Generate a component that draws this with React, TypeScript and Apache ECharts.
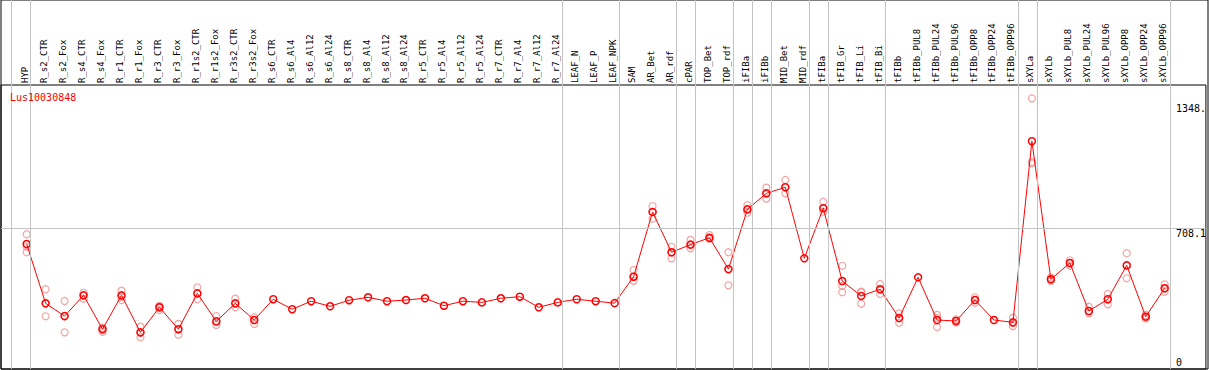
import { useEffect, useRef } from 'react';
import * as echarts from 'echarts';

const geneName = 'Lus10030848';

const categories = [
  'HYP', 'R_s2_CTR', 'R_s2_Fox', 'R_s4_CTR', 'R_s4_Fox', 'R_r1_CTR', 'R_r1_Fox', 'R_r3_CTR', 'R_r3_Fox',
  'R_r1s2_CTR', 'R_r1s2_Fox', 'R_r3s2_CTR', 'R_r3s2_Fox', 'R_s6_CTR', 'R_s6_Al4', 'R_s6_Al12', 'R_s6_Al24',
  'R_s8_CTR', 'R_s8_Al4', 'R_s8_Al12', 'R_s8_Al24', 'R_r5_CTR', 'R_r5_Al4', 'R_r5_Al12', 'R_r5_Al24',
  'R_r7_CTR', 'R_r7_Al4', 'R_r7_Al12', 'R_r7_Al24', 'LEAF_N', 'LEAF_P', 'LEAF_NPK', 'SAM', 'AR_Bet', 'AR_rdf',
  'cPAR', 'TOP_Bet', 'TOP_rdf', 'iFIBa', 'iFIBb', 'MID_Bet', 'MID_rdf', 'tFIBa', 'tFIB_Gr', 'tFIB_Li', 'tFIB_Bi',
  'tFIBb', 'tFIBb_PUL8', 'tFIBb_PUL24', 'tFIBb_PUL96', 'tFIBb_OPP8', 'tFIBb_OPP24', 'tFIBb_OPP96', 'sXYLa',
  'sXYLb', 'sXYLb_PUL8', 'sXYLb_PUL24', 'sXYLb_PUL96', 'sXYLb_OPP8', 'sXYLb_OPP24', 'sXYLb_OPP96',
];

const meanValues = [
  628, 325, 260, 366, 193, 366, 177, 305, 193, 376, 233, 325, 240, 346, 295, 336, 310,
  341, 356, 336, 342, 351, 313, 336, 330, 351, 359, 305, 330, 346, 336, 326, 461, 792, 586,
  625, 660, 500, 805, 887, 918, 555, 811, 439, 363, 397, 250, 458, 240, 235, 342, 240, 228, 1153,
  448, 531, 286, 346, 519, 257, 402,
];

const N = null;
const rep1 = [
  678, 397, 337, 379, 201, 390, 206, 312, 220, 407, 260, 349, 254, N, N, N, N,
  N, N, N, N, N, N, N, N, N, N, N, N, N, N, N, 495, 822, 614,
  649, 674, 586, 827, 916, 955, N, 844, 517, 385, 424, 274, N, 266, 243, 356, N, 252, 1372,
  457, 545, 308, 373, 581, 266, 422,
];
const rep2 = [
  615, 325, 260, 366, 180, 358, 174, 305, 193, 376, 233, 325, 240, N, N, N, N,
  N, N, N, N, N, N, N, N, N, N, N, N, N, N, N, 461, 792, 586,
  625, 660, 500, 805, 887, 918, N, 811, 414, 381, 397, 250, N, 250, 235, 342, N, 225, 1047,
  448, 531, 286, 346, 519, 257, 402,
];
const rep3 = [
  586, 259, 177, 349, 194, 342, 152, 291, 165, 346, 215, 305, 220, N, N, N, N,
  N, N, N, N, N, N, N, N, N, N, N, N, N, N, N, 440, 757, 555,
  606, 654, 417, 788, 860, 887, N, 793, 382, 323, 373, 226, N, 204, 227, 328, N, 209, 1040,
  439, 517, 274, 320, 453, 248, 385,
];

// index of the last category of each group (-1 = before the first)
const groupEnds = [-1, 0, 28, 31, 34, 35, 37, 38, 39, 41, 42, 45, 52, 53, 60];

const yTickValues = [708.1, 1348];
const yTickLabels = ['708.1', '1348.'];
const zeroTickValues = [0];
const zeroTickLabels = ['0'];
const gridLineValue = 708.1;

// layout
const W = 1209;
const H = 370;
const FIRST_X = 26.7;
const STEP = 19;
const BOX_L = 1;
const BOX_R = 1208;
const HEAD_H = 85;
const BOX_B = 369;
const ZERO_Y = 367;
const PX_PER_UNIT = 0.1958;
const LABEL_SHIFT = 1.5 / STEP;
const X_MIN = (BOX_L - FIRST_X) / STEP;
const X_MAX = (BOX_R - FIRST_X) / STEP;
const Y_MAX = (ZERO_Y - HEAD_H) / PX_PER_UNIT;
const Y_MIN = (ZERO_Y - BOX_B) / PX_PER_UNIT;
const FONT = 'DejaVu Sans Mono';
const GREY = '#c4c4c4';

export default function App() {
  const ref = useRef<HTMLDivElement>(null);
  useEffect(() => {
    document.body.style.margin = '0';
    if (!ref.current) return;
    const chart = echarts.init(ref.current, null, { renderer: 'svg' });

    const repData: number[][] = [];
    [rep1, rep2, rep3].forEach((arr) => {
      arr.forEach((v, i) => {
        if (v !== null) repData.push([i, v as number]);
      });
    });

    const option: any = {
      animation: false,
      title: {
        text: geneName,
        left: 10,
        top: 92,
        padding: 0,
        textStyle: { color: '#ff0000', fontSize: 10, fontWeight: 'normal', fontFamily: FONT },
      },
      grid: [
        {
          left: BOX_L, right: W - BOX_R, top: HEAD_H, bottom: H - BOX_B,
          show: true, borderColor: '#000', borderWidth: 1, backgroundColor: 'transparent',
        },
        {
          left: BOX_L, right: W - BOX_R, top: 0, bottom: H - BOX_B,
          show: true, borderColor: '#000', borderWidth: 1, backgroundColor: 'transparent',
        },
      ],
      xAxis: [
        {
          gridIndex: 0,
          type: 'value',
          position: 'top',
          min: X_MIN,
          max: X_MAX,
          axisLine: { show: false },
          axisTick: { show: false },
          splitLine: { show: false },
          axisLabel: {
            customValues: categories.map((_, i) => i - LABEL_SHIFT),
            formatter: (v: number) => categories[Math.round(v)] ?? '',
            rotate: 90,
            margin: 2,
            fontSize: 9,
            fontFamily: FONT,
            color: '#000',
          },
        },
        {
          gridIndex: 1,
          type: 'value',
          min: X_MIN,
          max: X_MAX,
          show: false,
        },
      ],
      yAxis: [
        {
          gridIndex: 0,
          type: 'value',
          position: 'right',
          offset: -38,
          min: Y_MIN,
          max: Y_MAX,
          axisLine: { show: false },
          axisTick: { show: false },
          splitLine: { show: false },
          axisLabel: {
            customValues: yTickValues,
            formatter: (v: number) => yTickLabels[yTickValues.indexOf(v)] ?? '',
            verticalAlign: 'top',
            margin: 8,
            fontSize: 10,
            fontFamily: FONT,
            color: '#000',
          },
        },
        {
          gridIndex: 0,
          type: 'value',
          position: 'right',
          offset: -38,
          min: Y_MIN,
          max: Y_MAX,
          axisLine: { show: false },
          axisTick: { show: false },
          splitLine: { show: false },
          axisLabel: {
            customValues: zeroTickValues,
            formatter: (v: number) => zeroTickLabels[zeroTickValues.indexOf(v)] ?? '',
            verticalAlign: 'bottom',
            margin: 8,
            fontSize: 10,
            fontFamily: FONT,
            color: '#000',
          },
        },
        {
          gridIndex: 1,
          type: 'value',
          min: 0,
          max: 1,
          show: false,
        },
      ],
      series: [
        {
          type: 'line',
          xAxisIndex: 1,
          yAxisIndex: 2,
          data: [],
          silent: true,
          z: 1,
          markLine: {
            silent: true,
            symbol: 'none',
            label: { show: false },
            emphasis: { disabled: true },
            lineStyle: { color: GREY, width: 1, type: 'solid' },
            data: groupEnds.map((g) => ({ xAxis: g + 0.2 })),
          },
        },
        {
          type: 'scatter',
          xAxisIndex: 0,
          yAxisIndex: 0,
          data: repData,
          symbol: 'circle',
          symbolSize: 7,
          silent: true,
          z: 3,
          itemStyle: { color: 'rgba(0,0,0,0)', borderColor: '#f08c8c', borderWidth: 1.2 },
          markLine: {
            silent: true,
            symbol: 'none',
            label: { show: false },
            emphasis: { disabled: true },
            lineStyle: { color: GREY, width: 1, type: 'solid' },
            data: [{ yAxis: gridLineValue }],
          },
        },
        {
          type: 'line',
          xAxisIndex: 0,
          yAxisIndex: 0,
          data: meanValues.map((v, i) => [i, v]),
          symbol: 'circle',
          symbolSize: 7,
          showAllSymbol: true,
          silent: true,
          z: 4,
          lineStyle: { color: '#ff0000', width: 1 },
          itemStyle: { color: 'rgba(0,0,0,0)', borderColor: '#ff0000', borderWidth: 1.5 },
        },
      ],
    };
    chart.setOption(option);
    return () => chart.dispose();
  }, []);
  return <div ref={ref} style={{ width: W, height: H }} />;
}
